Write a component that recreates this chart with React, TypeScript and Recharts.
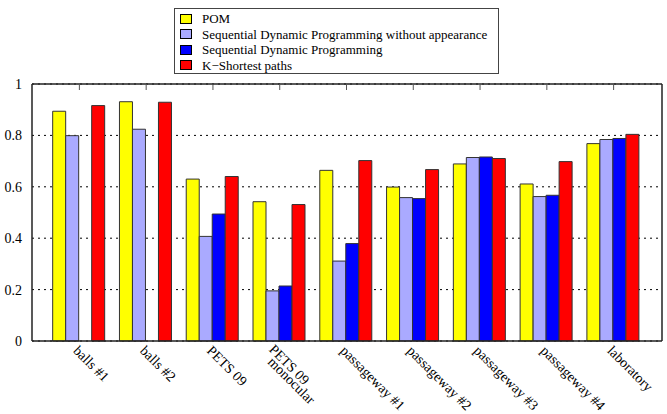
import React from "react";
import {
  Bar,
  BarChart,
  CartesianGrid,
  Legend,
  XAxis,
  YAxis,
} from "recharts";

// tracking accuracy per sequence
const categories = [
  "balls #1",
  "balls #2",
  "PETS 09",
  "PETS 09\nmonocular",
  "passageway #1",
  "passageway #2",
  "passageway #3",
  "passageway #4",
  "laboratory",
];
const pom = [0.894, 0.931, 0.63, 0.542, 0.664, 0.599, 0.689, 0.611, 0.768];
const sdpNoAppearance = [0.799, 0.824, 0.407, 0.195, 0.311, 0.558, 0.714, 0.562, 0.784];
const sdp = [0, 0, 0.494, 0.214, 0.379, 0.554, 0.716, 0.567, 0.788];
const ksp = [0.916, 0.929, 0.64, 0.531, 0.702, 0.667, 0.71, 0.698, 0.804];
const yTicks = [0, 0.2, 0.4, 0.6, 0.8, 1];

const series = [
  { key: "pom", name: "POM", color: "#ffff00" },
  { key: "sdpNoAppearance", name: "Sequential Dynamic Programming without appearance", color: "#aaaaff" },
  { key: "sdp", name: "Sequential Dynamic Programming", color: "#0000ff" },
  { key: "ksp", name: "K\u2212Shortest paths", color: "#ff0000" },
];

const data = categories.map((name, i) => ({
  name,
  pom: pom[i],
  sdpNoAppearance: sdpNoAppearance[i],
  sdp: sdp[i],
  ksp: ksp[i],
}));

const FONT = "'Liberation Serif', 'DejaVu Serif', serif";
const FRAME = "#222";

const NoLabel = () => <g />;

// rotated category labels, second line stacked below the first
function SlantTick(props: any) {
  const { x, y, payload } = props;
  const lines: string[] = String(payload.value).split("\n");
  const pos =
    lines.length === 1
      ? [{ dx: -7, dy: 10.5 }]
      : [
          { dx: -11.5, dy: 9.2 },
          { dx: -12.6, dy: 21.8 },
        ];
  return (
    <g>
      {lines.map((line, i) => {
        const tx = x + pos[i].dx;
        const ty = y + pos[i].dy;
        return (
          <text
            key={i}
            x={tx}
            y={ty}
            transform={`rotate(45, ${tx}, ${ty})`}
            textAnchor="start"
            fontSize={14}
            fontFamily={FONT}
            fill="#000"
          >
            {line}
          </text>
        );
      })}
    </g>
  );
}

function LegendBox() {
  return (
    <div
      style={{
        boxSizing: "border-box",
        width: 325,
        height: 66,
        border: "1px solid #444",
        background: "#fff",
        padding: "2px 0 0 5px",
        fontFamily: FONT,
        fontSize: 13,
        color: "#000",
      }}
    >
      {series.map((s) => (
        <div
          key={s.key}
          style={{ display: "flex", alignItems: "center", height: 15.5, lineHeight: "15.5px" }}
        >
          <span
            style={{
              boxSizing: "border-box",
              width: 12,
              height: 10,
              background: s.color,
              border: "1px solid #000",
              marginRight: 10,
              flex: "none",
            }}
          />
          <span style={{ whiteSpace: "nowrap" }}>{s.name}</span>
        </div>
      ))}
    </div>
  );
}

export default function App() {
  return (
    <div style={{ position: "absolute", left: 0, top: 0, background: "#fff", fontFamily: FONT }}>
      <BarChart
        width={667}
        height={414}
        data={data}
        margin={{ top: 84, right: 5, bottom: 0, left: 0 }}
        barCategoryGap="10%"
        barGap={0}
      >
        <CartesianGrid
          horizontal
          vertical={false}
          stroke="#000"
          strokeDasharray="2 4"
        />
        <XAxis
          dataKey="name"
          height={73}
          padding={{ left: 14, right: 15 }}
          interval={0}
          tickLine={false}
          tickSize={0}
          tickMargin={0}
          axisLine={{ stroke: FRAME, strokeWidth: 1.5 }}
          tick={<SlantTick />}
        />
        <XAxis
          xAxisId="top"
          dataKey="name"
          orientation="top"
          mirror
          padding={{ left: 14, right: 15 }}
          interval={0}
          tickSize={6}
          tickLine={{ stroke: "#555" }}
          axisLine={{ stroke: FRAME, strokeWidth: 1.5 }}
          tick={NoLabel}
        />
        <YAxis
          width={32}
          domain={[0, 1]}
          ticks={yTicks}
          interval={0}
          tickLine={false}
          tickSize={0}
          tickMargin={10}
          axisLine={{ stroke: FRAME, strokeWidth: 1.5 }}
          tick={{ fontSize: 14, fontFamily: FONT, fill: "#000" }}
        />
        <YAxis
          yAxisId="leftTicks"
          orientation="left"
          mirror
          domain={[0, 1]}
          ticks={yTicks}
          interval={0}
          tickSize={6}
          tickLine={{ stroke: "#555" }}
          axisLine={false}
          tick={NoLabel}
        />
        <YAxis
          yAxisId="right"
          orientation="right"
          mirror
          domain={[0, 1]}
          ticks={yTicks}
          interval={0}
          tickSize={6}
          tickLine={{ stroke: "#555" }}
          axisLine={{ stroke: FRAME, strokeWidth: 1.5 }}
          tick={NoLabel}
        />
        <Legend
          layout="vertical"
          align="center"
          verticalAlign="middle"
          wrapperStyle={{ position: "absolute", left: 174, top: 8, width: 325, height: 66 }}
          content={() => <LegendBox />}
        />
        {series.map((s) => (
          <Bar
            key={s.key}
            dataKey={s.key}
            name={s.name}
            fill={s.color}
            stroke="#333"
            strokeWidth={1}
            isAnimationActive={false}
          />
        ))}
      </BarChart>
    </div>
  );
}
